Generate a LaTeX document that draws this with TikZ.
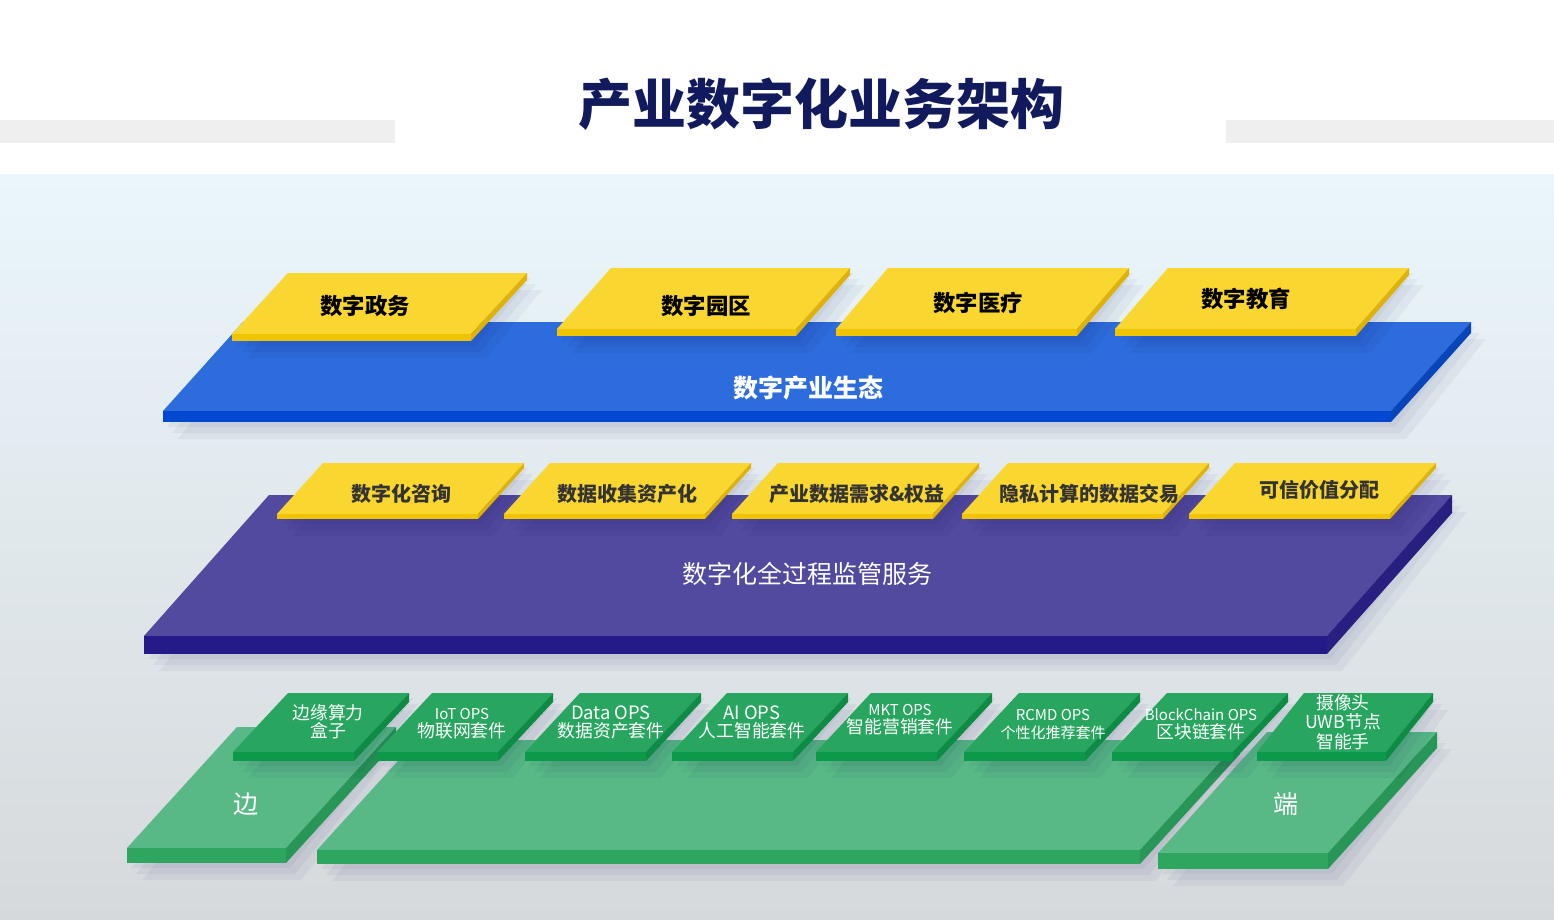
\documentclass[tikz,border=0pt]{standalone}
\usepackage{fontspec}
\setmainfont{Noto Sans CJK SC}
\usepackage{xcolor}
\usepackage{tikz}
\definecolor{titlenavy}{RGB}{16,26,92}
\definecolor{bargray}{RGB}{239,239,239}
\definecolor{bgtop}{RGB}{234,246,251}
\definecolor{bgmid}{RGB}{196,222,236}
\definecolor{bgbot}{RGB}{214,217,220}
\tikzset{yellow top/.style={fill={rgb,255:red,250;green,214;blue,48}},
         yellow front/.style={fill={rgb,255:red,240;green,196;blue,0}},
         yellow side/.style={fill={rgb,255:red,222;green,178;blue,10}},
         blue top/.style={fill={rgb,255:red,45;green,108;blue,220}},
         blue front/.style={fill={rgb,255:red,2;green,72;blue,210}},
         blue side/.style={fill={rgb,255:red,8;green,68;blue,186}},
         purple top/.style={fill={rgb,255:red,82;green,74;blue,158}},
         purple front/.style={fill={rgb,255:red,36;green,26;blue,136}},
         purple side/.style={fill={rgb,255:red,40;green,32;blue,128}},
         slab top/.style={fill={rgb,255:red,88;green,185;blue,134}},
         slab front/.style={fill={rgb,255:red,46;green,166;blue,96}},
         slab side/.style={fill={rgb,255:red,40;green,150;blue,86}},
         tile top/.style={fill={rgb,255:red,40;green,166;blue,96}},
         tile front/.style={fill={rgb,255:red,12;green,154;blue,74}},
         tile side/.style={fill={rgb,255:red,14;green,140;blue,70}},
         plate shadow/.style={fill=black!70!blue,opacity=.045},
         title/.style={font=\bfseries\fontsize{27}{30}\selectfont,text=titlenavy},
         layer label/.style={font=\bfseries\fontsize{12.5}{15}\selectfont,text=white},
         service label/.style={font=\fontsize{12.5}{15}\selectfont,text=white},
         scene label/.style={font=\bfseries\fontsize{11.2}{13}\selectfont,text=black},
         process label/.style={font=\bfseries\fontsize{10}{12}\selectfont,text=black!80},
         tile label/.style={font=\fontsize{8.9}{9}\selectfont,text=white,align=center,inner sep=0pt},
         end label/.style={font=\fontsize{12.5}{14}\selectfont,text=white},
            }
\newcommand{\opsfont}{\fontsize{7.5}{9}\selectfont}
\newcommand{\opsbig}{\fontsize{9.2}{9}\selectfont}
% #1 top-left x, #2 bottom-left x, #3 top y, #4 bottom y, #5 width, #6 thickness, #7 colour set
\newcommand{\plate}[7]{%
  \fill[plate shadow] (#1+4,#3+5) -- (#1+#5+4,#3+5) -- (#2+#5+4,#4+#6+5) -- (#2+4,#4+#6+5) -- cycle;
  \fill[plate shadow] (#1+9,#3+11) -- (#1+#5+9,#3+11) -- (#2+#5+9,#4+#6+11) -- (#2+9,#4+#6+11) -- cycle;
  \fill[plate shadow] (#1+15,#3+17) -- (#1+#5+15,#3+17) -- (#2+#5+15,#4+#6+17) -- (#2+15,#4+#6+17) -- cycle;
  \fill[#7 top] (#1,#3) -- (#1+#5,#3) -- (#2+#5,#4) -- (#2,#4) -- cycle;
  \fill[#7 front] (#2,#4) -- (#2+#5,#4) -- (#2+#5,#4+#6) -- (#2,#4+#6) -- cycle;
  \fill[#7 side] (#1+#5,#3) -- (#1+#5,#3+#6) -- (#2+#5,#4+#6) -- (#2+#5,#4) -- cycle;
}

\begin{document}
\begin{tikzpicture}[x=0.5pt,y=-0.5pt]

    \useasboundingbox (0,0) rectangle (1554,920);
    \fill[white] (0,0) rectangle (1554,920);
    \fill[bargray] (0,120) rectangle (395,143);
    \fill[bargray] (1226,120) rectangle (1554,143);
    \shade[top color=bgtop,middle color=bgmid,bottom color=bgbot] (0,175) rectangle (1554,920);

    \node[title] (title) at (821,104) {产业数字化业务架构};

    % ecology layer
    \plate{243}{163}{322}{411}{1228}{11}{blue}
    \plate{288}{232}{273}{334}{239}{7}{yellow}
    \plate{611}{557}{268}{329}{239}{7}{yellow}
    \plate{888}{836}{268}{329}{241}{7}{yellow}
    \plate{1168}{1115}{268}{329}{241}{7}{yellow}
    \node[layer label] (ecology) at (808,388) {数字产业生态};
    \node[scene label] (gov) at (365,306) {数字政务};
    \node[scene label] (park) at (706,306) {数字园区};
    \node[scene label] (health) at (978,303) {数字医疗};
    \node[scene label] (edu) at (1246,299) {数字教育};

    % supervision layer
    \plate{269}{144}{495}{636}{1183}{18}{purple}
    \plate{323}{277}{463}{514}{201}{5}{yellow}
    \plate{550}{504}{463}{514}{201}{5}{yellow}
    \plate{778}{732}{463}{514}{201}{5}{yellow}
    \plate{1008}{962}{463}{514}{201}{5}{yellow}
    \plate{1235}{1189}{463}{514}{201}{5}{yellow}
    \node[service label] (supervise) at (807,574) {数字化全过程监管服务};
    \node[process label] (consult) at (401,494) {数字化咨询};
    \node[process label] (collect) at (627,494) {数据收集资产化};
    \node[process label] (demand) at (857,494) {产业数据需求\&权益};
    \node[process label] (privacy) at (1089,494) {隐私计算的数据交易};
    \node[process label] (trust) at (1319,490) {可信价值分配};

    % edge / cloud / end layer
    \plate{237}{127}{727}{848}{159}{15}{slab}
    \plate{417}{317}{740}{850}{823}{14}{slab}
    \plate{1267}{1158}{732}{853}{170}{16}{slab}
    \plate{288}{233}{693}{752}{121}{9}{tile}
    \plate{432}{377}{693}{752}{121}{9}{tile}
    \plate{580}{525}{693}{752}{121}{9}{tile}
    \plate{727}{672}{693}{752}{121}{9}{tile}
    \plate{871}{816}{693}{752}{121}{9}{tile}
    \plate{1019}{964}{693}{752}{121}{9}{tile}
    \plate{1167}{1112}{693}{752}{121}{9}{tile}
    \plate{1304}{1257}{693}{752}{129}{9}{tile}
    \node[end label] (edge) at (246,804) {边};
    \node[end label] (terminal) at (1286,804) {端};
    \node[tile label] (box) at (328,722) {边缘算力\\盒子};
    \node[tile label] (iot) at (462,724) {{\opsfont IoT OPS}\\物联网套件};
    \node[tile label] (data) at (611,722) {{\opsbig Data OPS}\\数据资产套件};
    \node[tile label] (ai) at (752,722) {{\opsbig AI OPS}\\人工智能套件};
    \node[tile label] (mkt) at (900,720) {{\opsfont MKT OPS}\\智能营销套件};
    \node[tile label] (rcmd) at (1053,724) {{\opsfont RCMD OPS}\\{\opsfont 个性化推荐套件}};
    \node[tile label] (chain) at (1201,724) {{\opsfont BlockChain OPS}\\区块链套件};
    \node[tile label,font=\fontsize{8.9}{9.8}\selectfont] (camera) at (1343,722) {摄像头\\UWB节点\\智能手};

\end{tikzpicture}
\end{document}
